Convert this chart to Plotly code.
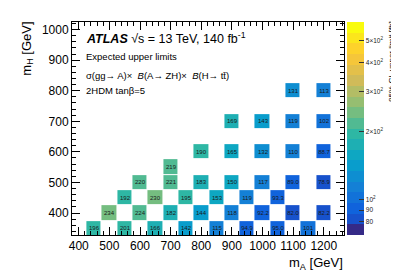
import numpy as np
import plotly.graph_objects as go

# ---- data ----
mA = [450, 550, 650, 750, 850, 950, 1050, 1150,
      500, 600, 700, 800, 900, 1000, 1100, 1200,
      550, 650, 750, 850, 950, 1050,
      600, 700, 800, 900, 1000, 1100, 1200,
      700,
      800, 900, 1000, 1100, 1200,
      900, 1000, 1100, 1200,
      1100, 1200]
mH = [350]*8 + [400]*8 + [450]*6 + [500]*7 + [550] + [600]*5 + [700]*4 + [800]*2
limit = [196, 201, 166, 142, 115, 94.9, 95.0, 101,
         234, 224, 182, 144, 118, 92.2, 82.0, 82.2,
         192, 230, 195, 153, 119, 93.3,
         220, 221, 183, 150, 117, 89.0, 78.9,
         219,
         190, 165, 132, 110, 88.7,
         169, 143, 119, 102,
         131, 113]
labels = ["196", "201", "166", "142", "115", "94.9", "95.0", "101",
          "234", "224", "182", "144", "118", "92.2", "82.0", "82.2",
          "192", "230", "195", "153", "119", "93.3",
          "220", "221", "183", "150", "117", "89.0", "78.9",
          "219",
          "190", "165", "132", "110", "88.7",
          "169", "143", "119", "102",
          "131", "113"]
cb_ticks = [80, 90, 100, 200, 300, 400, 500]
cb_ticktext = ["80", "90", "10<sup>2</sup>", "2×10<sup>2</sup>", "3×10<sup>2</sup>",
               "4×10<sup>2</sup>", "5×10<sup>2</sup>"]
zmin, zmax = 70.0, 605.0

# ---- grid ----
xs = np.arange(450, 1201, 50)
ys = np.arange(350, 801, 50)
Z = [[None]*len(xs) for _ in ys]
T = [[""]*len(xs) for _ in ys]
for a, h, v, lab in zip(mA, mH, limit, labels):
    i = list(ys).index(h); j = list(xs).index(a)
    Z[i][j] = float(np.log10(v)); T[i][j] = lab

# ROOT kBird palette, 20 discrete bands (ROOT colour-index rule)
stops = np.linspace(0, 1, 9)
R = [0.2082, 0.0592, 0.0780, 0.0232, 0.1802, 0.5301, 0.8186, 0.9956, 0.9764]
G = [0.1664, 0.3599, 0.5041, 0.6419, 0.7178, 0.7492, 0.7328, 0.7862, 0.9832]
B = [0.5293, 0.8684, 0.8385, 0.7914, 0.6425, 0.4662, 0.3499, 0.1968, 0.0539]
def bird(f):
    return "rgb(%d,%d,%d)" % tuple(int(round(255*np.interp(f, stops, c))) for c in (R, G, B))
n = 20
cs = []
for k in range(n):
    c = bird(min((k + 0.99) / n, 1.0) if k > 0 else 0.0)
    cs.append([k/n, c]); cs.append([(k+1)/n, c])

FONT = "Liberation Sans, Arial, sans-serif"
fig = go.Figure(go.Heatmap(
    x=xs, y=ys, z=Z, text=T, texttemplate="%{text}",
    textfont=dict(size=6, color="#1a1a1a", family=FONT),
    colorscale=cs, zmin=np.log10(zmin), zmax=np.log10(zmax),
    xgap=1, ygap=1, hoverongaps=False,
    colorbar=dict(x=1.0128, xanchor="left", xpad=0, ypad=0, thickness=17,
                  len=1.0, y=0.5, yanchor="middle", outlinewidth=0,
                  tickvals=[float(np.log10(t)) for t in cb_ticks], ticktext=cb_ticktext,
                  ticks="inside", ticklen=5, tickcolor="#333",
                  tickfont=dict(size=6.5, family=FONT, color="#222")),
))

axis_common = dict(showgrid=False, zeroline=False, ticks="inside", ticklen=8,
                   mirror="allticks", showline=True, linecolor="black", linewidth=1,
                   tickcolor="black", tickfont=dict(size=12, family=FONT, color="black"),
                   minor=dict(ticks="inside", ticklen=4, dtick=20, tickcolor="black"))
fig.update_xaxes(range=[378, 1266], dtick=100, tick0=0, **axis_common)
fig.update_yaxes(range=[328, 1025], dtick=100, tick0=0, **axis_common)

def px(x): return (x - 63.5) / 273.0
def py(y): return 1 - (y - 14) / 212.7

ann = [
    dict(x=px(76), y=py(30), xanchor="left", yanchor="middle",
         text="<b><i>ATLAS</i></b> √s = 13 TeV, 140 fb<sup>-1</sup>", font=dict(size=12.5)),
    dict(x=px(76), y=py(48), xanchor="left", yanchor="middle",
         text="Expected upper limits", font=dict(size=9.5)),
    dict(x=px(76), y=py(67), xanchor="left", yanchor="middle",
         text="σ(gg→ A)×  <i>B</i>(A→ ZH)×  <i>B</i>(H→ tt̄)", font=dict(size=9.5)),
    dict(x=px(76), y=py(82), xanchor="left", yanchor="middle",
         text="2HDM tanβ=5", font=dict(size=9.5)),
    dict(x=px(19), y=py(12), xanchor="center", yanchor="top", textangle=-90,
         text="m<sub>H</sub> [GeV]", font=dict(size=13)),
    dict(x=px(338), y=py(255), xanchor="right", yanchor="middle",
         text="m<sub>A</sub> [GeV]", font=dict(size=13)),
    dict(x=px(384), y=py(13), xanchor="center", yanchor="top", textangle=-90,
         borderpad=0, borderwidth=0,
         text="95% CL upper limit [fb]", font=dict(size=8)),
]
for a in ann:
    a.update(xref="paper", yref="paper", showarrow=False)
    a["font"].update(family=FONT, color="black")
fig.update_layout(width=399, height=271, margin=dict(l=63.5, r=62.5, t=14, b=44.3),
                  paper_bgcolor="white", plot_bgcolor="white", annotations=ann,
                  font=dict(family=FONT))
fig.write_html("out.html")
